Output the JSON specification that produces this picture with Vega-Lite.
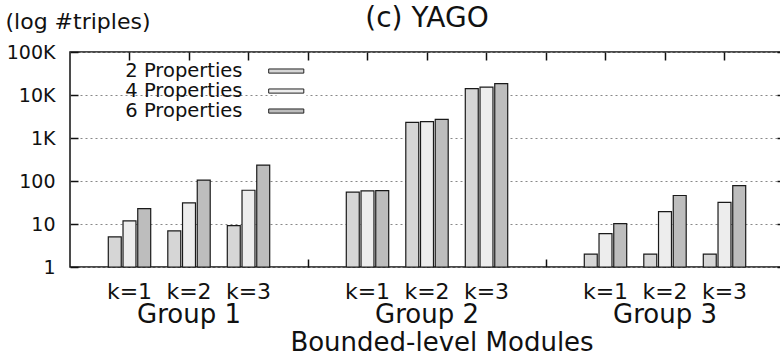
{
  "$schema": "https://vega.github.io/schema/vega-lite/v6.json",
  "width": 714,
  "height": 215,
  "autosize": {"type": "none"},
  "padding": {"left": 70, "top": 52, "right": 0, "bottom": 89},
  "config": {
    "font": "DejaVu Sans",
    "view": {"stroke": "#111", "strokeWidth": 1.5},
    "axis": {"labelColor": "#111", "titleColor": "#111", "tickColor": "#111", "tickWidth": 1.5}
  },
  "title": {"text": "(c) YAGO", "fontSize": 28, "fontWeight": "normal", "frame": "group", "anchor": "middle", "baseline": "alphabetic", "offset": -45, "color": "#111"},
  "data": {
    "values": [
      {"module": "Group 1 k=1", "series": "2 Properties", "triples": 5},
      {"module": "Group 1 k=1", "series": "4 Properties", "triples": 11.8},
      {"module": "Group 1 k=1", "series": "6 Properties", "triples": 22.8},
      {"module": "Group 1 k=2", "series": "2 Properties", "triples": 6.9},
      {"module": "Group 1 k=2", "series": "4 Properties", "triples": 31},
      {"module": "Group 1 k=2", "series": "6 Properties", "triples": 105},
      {"module": "Group 1 k=3", "series": "2 Properties", "triples": 9.2},
      {"module": "Group 1 k=3", "series": "4 Properties", "triples": 61},
      {"module": "Group 1 k=3", "series": "6 Properties", "triples": 235},
      {"module": "Group 2 k=1", "series": "2 Properties", "triples": 55},
      {"module": "Group 2 k=1", "series": "4 Properties", "triples": 59},
      {"module": "Group 2 k=1", "series": "6 Properties", "triples": 60},
      {"module": "Group 2 k=2", "series": "2 Properties", "triples": 2300},
      {"module": "Group 2 k=2", "series": "4 Properties", "triples": 2400},
      {"module": "Group 2 k=2", "series": "6 Properties", "triples": 2700},
      {"module": "Group 2 k=3", "series": "2 Properties", "triples": 14000},
      {"module": "Group 2 k=3", "series": "4 Properties", "triples": 15300},
      {"module": "Group 2 k=3", "series": "6 Properties", "triples": 18400},
      {"module": "Group 3 k=1", "series": "2 Properties", "triples": 2},
      {"module": "Group 3 k=1", "series": "4 Properties", "triples": 6},
      {"module": "Group 3 k=1", "series": "6 Properties", "triples": 10.2},
      {"module": "Group 3 k=2", "series": "2 Properties", "triples": 2},
      {"module": "Group 3 k=2", "series": "4 Properties", "triples": 19.4},
      {"module": "Group 3 k=2", "series": "6 Properties", "triples": 46},
      {"module": "Group 3 k=3", "series": "2 Properties", "triples": 2},
      {"module": "Group 3 k=3", "series": "4 Properties", "triples": 32},
      {"module": "Group 3 k=3", "series": "6 Properties", "triples": 78}
    ]
  },
  "layer": [
    {
      "mark": {"type": "bar", "stroke": "#1a1a1a", "strokeWidth": 1.2},
      "encoding": {
        "x": {
          "field": "module", "type": "nominal",
          "scale": {"domain": ["Group 1 k=1", "Group 1 k=2", "Group 1 k=3", "gap1", "Group 2 k=1", "Group 2 k=2", "Group 2 k=3", "gap2", "Group 3 k=1", "Group 3 k=2", "Group 3 k=3"], "paddingInner": 0, "paddingOuter": 0.5},
          "axis": {"orient": "bottom", "title": null, "labelExpr": "slice(datum.value, 0, 3) == 'gap' ? '' : slice(datum.value, -3)", "labelAngle": 0, "labelFontSize": 22, "labelBaseline": "alphabetic", "labelPadding": 39.6, "tickSize": -8, "domain": false, "labelOverlap": false}
        },
        "xOffset": {"field": "series", "type": "nominal", "scale": {"paddingInner": 0.12, "paddingOuter": 0.58}},
        "y": {
          "field": "triples", "type": "quantitative",
          "scale": {"type": "log", "domain": [1, 100000], "nice": false},
          "axis": {"orient": "left", "values": [1, 10, 100, 1000, 10000, 100000], "labelExpr": "datum.value >= 1000 ? (datum.value / 1000) + 'K' : datum.value + ''", "labelFontSize": 19, "labelPadding": 23, "tickSize": -8, "grid": true, "gridDash": [2, 3], "gridColor": "#888", "gridWidth": 1, "domain": false, "title": "(log #triples)", "titleAngle": 0, "titleX": -65, "titleY": -24, "titleAlign": "left", "titleBaseline": "alphabetic", "titleFontSize": 22, "titleFontWeight": "normal"}
        },
        "y2": {"datum": 1},
        "fill": {
          "field": "series", "type": "nominal",
          "scale": {"domain": ["2 Properties", "4 Properties", "6 Properties"], "range": ["#d6d6d6", "#ededed", "#bdbdbd"]},
          "legend": {"orient": "none", "legendX": 206.5, "legendY": 9.3, "title": null, "symbolType": "M-1.95,-0.23H1.95V0.23H-1.95Z", "symbolSize": 324, "labelAlign": "right", "labelOffset": -53.5, "labelFontSize": 19.5, "labelColor": "#111", "symbolStrokeColor": "#222", "symbolStrokeWidth": 1, "symbolOpacity": 1, "rowPadding": -3, "padding": 0, "labelLimit": 300, "fillColor": "white"}
        }
      }
    },
    {
      "mark": {"type": "point", "opacity": 0},
      "encoding": {
        "x": {
          "field": "module", "type": "nominal",
          "axis": {"orient": "bottom", "title": "Bounded-level Modules", "labelExpr": "slice(datum.value, -3) == 'k=2' ? slice(datum.value, 0, 7) : ''", "labelAngle": 0, "labelFontSize": 26, "labelBaseline": "alphabetic", "labelPadding": 55, "ticks": false, "domain": false, "labelOverlap": false, "titleFontSize": 26, "titleFontWeight": "normal", "titleBaseline": "alphabetic", "titleY": 83.5, "titleX": 371.5}
        },
        "y": {
          "field": "triples", "type": "quantitative",
          "axis": {"orient": "right", "values": [1, 10, 100, 1000, 10000, 100000], "labels": false, "tickSize": -7, "domain": false, "grid": false, "title": null}
        }
      }
    },
    {
      "mark": {"type": "point", "opacity": 0},
      "encoding": {
        "x": {
          "field": "module", "type": "nominal",
          "axis": {"orient": "top", "labels": false, "tickSize": -8, "domain": false, "title": null}
        },
        "y": {"field": "triples", "type": "quantitative", "axis": null}
      }
    }
  ],
  "resolve": {"axis": {"x": "independent", "y": "independent"}}
}
